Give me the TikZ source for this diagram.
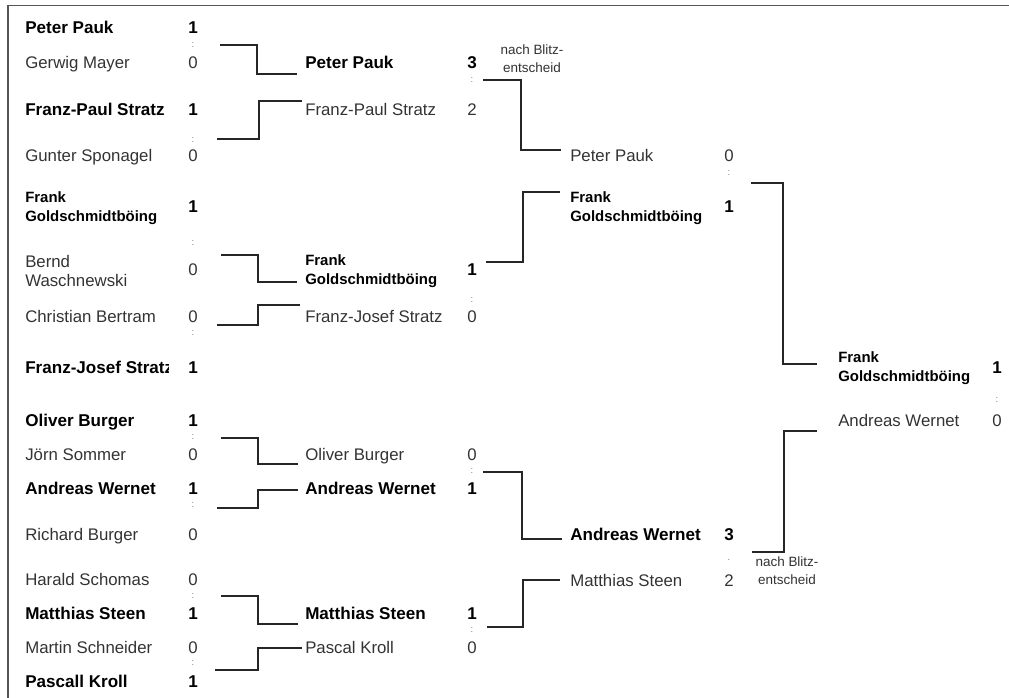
\documentclass[tikz,border=0pt]{standalone}
\usepackage{fontspec}
\setmainfont{Liberation Sans}
\definecolor{txtgray}{HTML}{333333}
\definecolor{colgray}{HTML}{777777}
\definecolor{framegray}{HTML}{555555}
\begin{document}
\begin{tikzpicture}[x=0.75pt,y=-0.75pt,
  nm/.style={anchor=base west, inner sep=0pt, text=txtgray, font=\fontsize{12.6}{14.25}\selectfont},
  nmb/.style={anchor=base west, inner sep=0pt, text=black, font=\fontsize{12.8}{14.25}\selectfont\bfseries},
  two/.style={anchor=west, align=left},
  twob/.style={anchor=west, align=left, inner sep=0pt, text=black, font=\fontsize{11.2}{14.25}\selectfont\bfseries},
  sc/.style={anchor=base, inner sep=0pt, text=txtgray, font=\fontsize{12.6}{14.25}\selectfont},
  scb/.style={anchor=base, inner sep=0pt, text=black, font=\fontsize{12.8}{14.25}\selectfont\bfseries},
  colon/.style={anchor=center, inner sep=0pt, text=colgray, font=\fontsize{7}{8}\selectfont},
  note/.style={anchor=center, align=center, inner sep=0pt, text=txtgray, font=\fontsize{10.1}{13.5}\selectfont},
  conn/.style={draw=black!85, line width=0.9pt},
  frame/.style={draw=framegray, line width=1.2pt}]
\useasboundingbox (0,0) rectangle (1009,698);
% frame
\coordinate (fr1) at (8,698);
\coordinate (fr2) at (8,5.5);
\coordinate (fr3) at (1009,5.5);
\draw[frame] (fr1) -- (fr2) -- (fr3);

% ---------- Round 1 ----------
\node[nmb] (a1) at (25,34) {Peter Pauk};          \node[scb] (a1s) at (193,34) {1};
\node[colon] (a1c) at (193,45) {:};
\node[nm]  (a2) at (25,69) {Gerwig Mayer};        \node[sc]  (a2s) at (193,69) {0};
\node[nmb] (a3) at (25,116) {Franz-Paul Stratz};  \node[scb] (a3s) at (193,116) {1};
\node[colon] (a3c) at (193,140) {:};
\node[nm]  (a4) at (25,162) {Gunter Sponagel};    \node[sc]  (a4s) at (193,162) {0};
\node[twob] (a5) at (25,208) {Frank\\Goldschmidtböing}; \node[scb] (a5s) at (193,213) {1};
\node[colon] (a5c) at (193,243) {:};
\node[nm,two] (a6) at (25,271) {Bernd\\Waschnewski}; \node[sc] (a6s) at (193,276) {0};
\node[nm]  (a7) at (25,322) {Christian Bertram};  \node[sc]  (a7s) at (193,322) {0};
\node[colon] (a7c) at (193,333) {:};
\begin{scope}
\clip (20,350) rectangle (168,390);
\node[nmb] (a8) at (25,373) {Franz-Josef Stratz};
\end{scope}
\node[scb] (a8s) at (193,373) {1};
\node[nmb] (a9) at (25,426) {Oliver Burger};      \node[scb] (a9s) at (193,426) {1};
\node[colon] (a9c) at (193,437) {:};
\node[nm]  (a10) at (25,460) {Jörn Sommer};       \node[sc]  (a10s) at (193,460) {0};
\node[nmb] (a11) at (25,494) {Andreas Wernet};    \node[scb] (a11s) at (193,494) {1};
\node[colon] (a11c) at (193,505) {:};
\node[nm]  (a12) at (25,540) {Richard Burger};    \node[sc]  (a12s) at (193,540) {0};
\node[nm]  (a13) at (25,585) {Harald Schomas};    \node[sc]  (a13s) at (193,585) {0};
\node[colon] (a13c) at (193,596) {:};
\node[nmb] (a14) at (25,619) {Matthias Steen};    \node[scb] (a14s) at (193,619) {1};
\node[nm]  (a15) at (25,653) {Martin Schneider};  \node[sc]  (a15s) at (193,653) {0};
\node[colon] (a15c) at (193,663) {:};
\node[nmb] (a16) at (25,687) {Pascall Kroll};     \node[scb] (a16s) at (193,687) {1};

% ---------- Round 2 ----------
\node[nmb] (b1) at (305,69) {Peter Pauk};         \node[scb] (b1s) at (472,69) {3};
\node[colon] (b1c) at (472,80) {:};
\node[note] (n1) at (532,59) {nach Blitz-\\entscheid};
\node[nm]  (b2) at (305,116) {Franz-Paul Stratz}; \node[sc]  (b2s) at (472,116) {2};
\node[twob] (b3) at (305,271) {Frank\\Goldschmidtböing}; \node[scb] (b3s) at (472,276) {1};
\node[colon] (b3c) at (472,300) {:};
\node[nm]  (b4) at (305,322) {Franz-Josef Stratz}; \node[sc] (b4s) at (472,322) {0};
\node[nm]  (b5) at (305,460) {Oliver Burger};     \node[sc]  (b5s) at (472,460) {0};
\node[colon] (b5c) at (472,471) {:};
\node[nmb] (b6) at (305,494) {Andreas Wernet};    \node[scb] (b6s) at (472,494) {1};
\node[nmb] (b7) at (305,619) {Matthias Steen};    \node[scb] (b7s) at (472,619) {1};
\node[colon] (b7c) at (472,630) {:};
\node[nm]  (b8) at (305,653) {Pascal Kroll};      \node[sc]  (b8s) at (472,653) {0};

% ---------- Round 3 ----------
\node[nm]  (c1) at (570,162) {Peter Pauk};        \node[sc]  (c1s) at (729,162) {0};
\node[colon] (c1c) at (729,173) {:};
\node[twob] (c2) at (570,208) {Frank\\Goldschmidtböing}; \node[scb] (c2s) at (729,213) {1};
\node[nmb] (c3) at (570,540) {Andreas Wernet};    \node[scb] (c3s) at (729,540) {3};
\node[colon] (c3c) at (729,560) {.};
\node[nm]  (c4) at (570,586) {Matthias Steen};    \node[sc]  (c4s) at (729,586) {2};
\node[note] (n2) at (787,571) {nach Blitz-\\entscheid};

% ---------- Final ----------
\node[twob] (d1) at (838,368) {Frank\\Goldschmidtböing}; \node[scb] (d1s) at (997,373) {1};
\node[colon] (d1c) at (997,400) {:};
\node[nm]  (d2) at (838,426) {Andreas Wernet};    \node[sc]  (d2s) at (997,426) {0};

% ---------- connectors ----------
\foreach \n/\sx/\sy/\vx/\ex/\ey in {
  k1/220/45/257/297/74, k2/217/139/259/302/101, k3/221/255/258/297/282,
  k4/217/325/258/300/305, k5/221/438/258/298/464, k6/217/508/258/298/490,
  k7/221/596/258/298/624, k8/215/670/258/302/648,
  k9/483/80/521/561/150, k10/486/262/523/560/192, k11/483/472/522/562/539,
  k12/487/627/523/560/580, k13/751/183/783/817/364, k14/752/552/784/817/431}{
  \coordinate (\n s) at (\sx,\sy);
  \coordinate (\n e) at (\ex,\ey);
  \draw[conn] (\n s) -- (\vx,\sy) -- (\vx,\ey) -- (\n e);
}
\end{tikzpicture}
\end{document}
